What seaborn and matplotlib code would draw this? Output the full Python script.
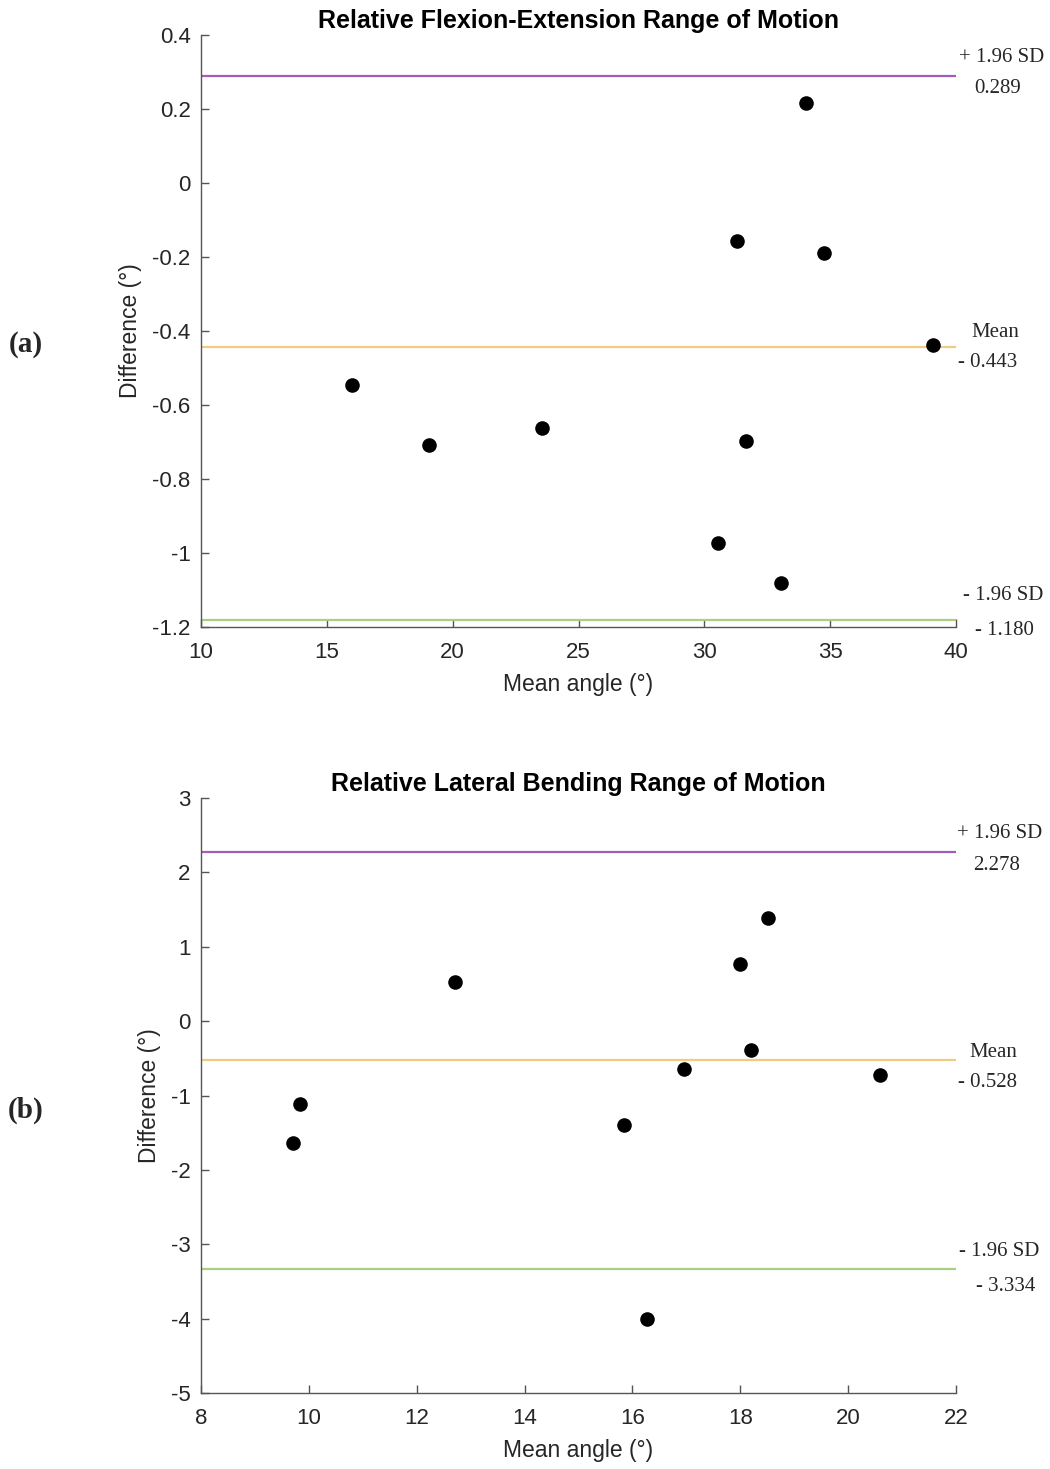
import matplotlib
matplotlib.use("Agg")
import matplotlib.pyplot as plt
import seaborn as sns
import pandas as pd
from matplotlib.ticker import FuncFormatter

# Panel (a) data
fe_mean_angle = [16.0, 19.06, 23.55, 30.54, 31.30, 31.65, 33.04, 34.04, 34.75, 39.08]
fe_difference = [-0.546, -0.708, -0.662, -0.973, -0.157, -0.697, -1.081, 0.216, -0.189, -0.438]
fe_limits = {"upper": 0.289, "mean": -0.443, "lower": -1.180}
fe_labels = ["0.289", "- 0.443", "- 1.180"]

# Panel (b) data
lb_mean_angle = [9.71, 9.84, 12.71, 15.84, 16.27, 16.96, 17.99, 18.20, 18.51, 20.59]
lb_difference = [-1.64, -1.11, 0.527, -1.395, -4.00, -0.642, 0.769, -0.387, 1.387, -0.723]
lb_limits = {"upper": 2.278, "mean": -0.528, "lower": -3.334}
lb_labels = ["2.278", "- 0.528", "- 3.334"]

titles = ["Relative Flexion-Extension Range of Motion", "Relative Lateral Bending Range of Motion"]
panel_tags = ["(a)", "(b)"]

sns.set_style("white")
plt.rcParams["font.family"] = ["Liberation Sans", "DejaVu Sans"]
plt.rcParams["axes.unicode_minus"] = False

fig = plt.figure(figsize=(10.5, 14.69), dpi=100)
W, H = 1050, 1469

def ax_rect(l, r, t, b):
    return [l / W, 1 - b / H, (r - l) / W, (b - t) / H]

axa = fig.add_axes(ax_rect(201, 956, 35, 627))
axb = fig.add_axes(ax_rect(201, 956, 798, 1393))

line_colors = {"upper": "#a35cb8", "mean": "#f0cc80", "lower": "#aacf82"}
serif = ["Liberation Serif", "DejaVu Serif"]

def fmt(v, pos):
    s = f"{v:.1f}".rstrip("0").rstrip(".")
    if s == "-0":
        s = "0"
    return s

def draw(ax, xs, ys, lims, labs, xlim, ylim, xticks, yticks, title, offs):
    df = pd.DataFrame({"x": xs, "y": ys})
    sns.scatterplot(data=df, x="x", y="y", ax=ax, color="black", s=110,
                    edgecolor="black", linewidth=0, zorder=3)
    for key in ["upper", "mean", "lower"]:
        ax.axhline(lims[key], color=line_colors[key], lw=1.6, zorder=2)
    ax.set_xlim(*xlim)
    ax.set_ylim(*ylim)
    ax.set_xticks(xticks)
    ax.set_yticks(yticks)
    ax.yaxis.set_major_formatter(FuncFormatter(fmt))
    for sp in ["top", "right"]:
        ax.spines[sp].set_visible(False)
    for sp in ["left", "bottom"]:
        ax.spines[sp].set_color("#555555")
        ax.spines[sp].set_linewidth(1.0)
    ax.tick_params(direction="in", length=6, width=1.0, color="#555555",
                   labelsize=16, labelcolor="#262626", left=True, bottom=True)
    ax.tick_params(axis="x", pad=11)
    ax.tick_params(axis="y", pad=7.5)
    ax.set_xlabel("Mean angle (°)", fontsize=16.5, color="#262626", labelpad=7)
    ax.set_ylabel("Difference (°)", fontsize=16.5, color="#262626", labelpad=7)
    ax.set_title(title, fontsize=18, fontweight="bold", color="black", pad=5)
    # annotations
    heads = ["+ 1.96 SD", "Mean", "- 1.96 SD"]
    for key, h, lab, (hdx, hdy, vdx, vdy) in zip(["upper", "mean", "lower"], heads, labs, offs):
        ax.annotate(h, xy=(1, lims[key]), xycoords=ax.get_yaxis_transform(),
                    xytext=(hdx, hdy), textcoords="offset pixels",
                    ha="center", va="center", fontsize=15, family=serif, annotation_clip=False)
        ax.annotate(lab, xy=(1, lims[key]), xycoords=ax.get_yaxis_transform(),
                    xytext=(vdx, vdy), textcoords="offset pixels",
                    ha="center", va="center", fontsize=15, family=serif, annotation_clip=False)

draw(axa, fe_mean_angle, fe_difference, fe_limits, fe_labels, (10, 40), (-1.2, 0.4),
     [10, 15, 20, 25, 30, 35, 40], [-1.2, -1.0, -0.8, -0.6, -0.4, -0.2, 0, 0.2, 0.4], titles[0],
     [(46, 19, 42, -12), (39, 14, 32, -16), (47, 24, 48, -11)])
draw(axb, lb_mean_angle, lb_difference, lb_limits, lb_labels, (8, 22), (-5, 3),
     [8, 10, 12, 14, 16, 18, 20, 22], [-5, -4, -3, -2, -1, 0, 1, 2, 3], titles[1],
     [(44, 18, 41, -14), (37, 8, 32, -22), (43, 18, 50, -17)])

fig.text(26 / W, 1 - 345 / H, panel_tags[0], ha="center", va="center", fontsize=21,
         fontweight="bold", family=serif)
fig.text(26 / W, 1 - 1110 / H, panel_tags[1], ha="center", va="center", fontsize=21,
         fontweight="bold", family=serif)

fig.savefig("out.png", dpi=100, facecolor="white")
